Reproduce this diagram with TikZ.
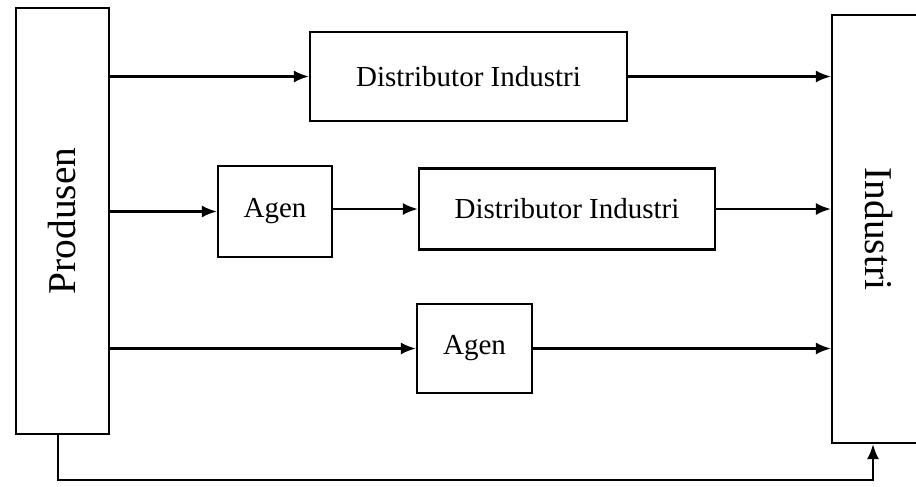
\documentclass[tikz,border=0pt]{standalone}
\usepackage{fontspec}
\setmainfont{Liberation Serif}
\usetikzlibrary{arrows.meta}

\begin{document}
\begin{tikzpicture}[
      x=0.5pt, y=-0.5pt, line width=1.1pt, >={Latex[length=7.5pt,width=6pt]},
      blok/.style={draw,rectangle,inner sep=0pt,font=\fontsize{14.5}{16}\selectfont},
      tegak/.style={draw,rectangle,inner sep=0pt},
      judul/.style={inner sep=0pt,font=\fontsize{19.7}{22}\selectfont}
  ]
      \useasboundingbox (0,0) rectangle (916,487);

      % kotak besar kiri dan kanan
      \node[tegak,minimum width=46.5pt,minimum height=213pt] (produsen) at (62.5,221) {};
      \node[judul,rotate=90] (produsenTeks) at (produsen.center) {Produsen};
      \node[tegak,minimum width=47pt,minimum height=214pt] (industri) at (879,229) {};
      \node[judul,rotate=-90] (industriTeks) at (industri.center) {Industri};

      % saluran tengah
      \node[blok,minimum width=158.5pt,minimum height=44.5pt] (dist1) at (468.5,76.5) {Distributor Industri};
      \node[blok,minimum width=57pt,minimum height=45.5pt]    (agen1) at (275,211.5) {Agen};
      \node[blok,minimum width=148pt,minimum height=40.5pt]   (dist2) at (567,209) {Distributor Industri};
      \node[blok,minimum width=57.5pt,minimum height=44.5pt]  (agen2) at (474.5,348.5) {Agen};

      \coordinate (bawah) at (873,480);

      % panah
      \draw[->] (produsen.east |- dist1.west) -- (dist1.west);
      \draw[->] (dist1.east) -- (industri.west |- dist1.east);
      \draw[->] (produsen.east |- agen1.west) -- (agen1.west);
      \draw[->] (agen1.east |- dist2.west) -- (dist2.west);
      \draw[->] (dist2.east) -- (industri.west |- dist2.east);
      \draw[->] (produsen.east |- agen2.west) -- (agen2.west);
      \draw[->] (agen2.east) -- (industri.west |- agen2.east);
      \draw[->] ([xshift=-2.25pt]produsen.south) |- (bawah) -- (industri.south -| bawah);
  \end{tikzpicture}
\end{document}
